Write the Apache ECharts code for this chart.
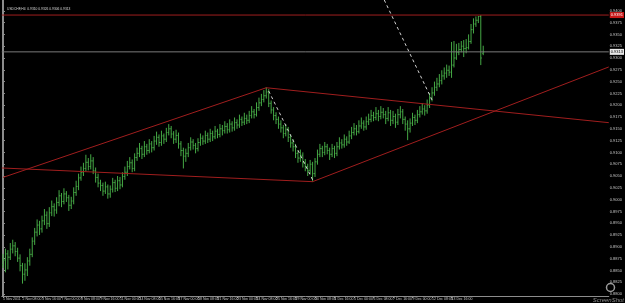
<!DOCTYPE html>
<html>
<head>
<meta charset="utf-8">
<script src="https://cdn.jsdelivr.net/npm/echarts@6/dist/echarts.min.js"></script>
<style>
  html, body { margin: 0; padding: 0; background: #000; }
  #chart { width: 625px; height: 303px; }
</style>
</head>
<body>
<div id="chart"></div>
<script>
// USDCHF H4 bars, prices in 1/10000 (pips)
var opens = [
  8862, 8872, 8885, 8878, 8895, 8902, 8890, 8876, 8860, 8842,
  8851, 8870, 8884, 8912, 8931, 8946, 8938, 8955, 8967, 8949,
  8972, 8985, 8978, 8994, 9008, 8996, 9012, 9004, 8988, 8997,
  9015, 9028, 9046, 9058, 9066, 9079, 9070, 9082, 9061, 9047,
  9035, 9030, 9018, 9027, 9012, 9022, 9036, 9024, 9040, 9031,
  9049, 9058, 9070, 9078, 9066, 9089, 9098, 9108, 9096, 9112,
  9104, 9118, 9110, 9124, 9132, 9121, 9135, 9128, 9142, 9150,
  9139, 9128, 9136, 9118, 9104, 9092, 9098, 9110, 9122, 9115,
  9108, 9121, 9130, 9124, 9136, 9128, 9140, 9133, 9145, 9138,
  9150, 9146, 9155, 9148, 9160, 9152, 9163, 9158, 9170, 9164,
  9172, 9168, 9178, 9186, 9180, 9195, 9205, 9212, 9220, 9228,
  9204, 9190, 9178, 9170, 9160, 9152, 9140, 9148, 9132, 9120,
  9112, 9098, 9088, 9094, 9078, 9070, 9062, 9075, 9055, 9080,
  9096, 9108, 9100, 9112, 9104, 9096, 9108, 9098, 9112, 9120,
  9116, 9128, 9122, 9135, 9142, 9150, 9144, 9156, 9162, 9154,
  9165, 9170, 9178, 9174, 9182, 9176, 9185, 9180, 9172, 9184,
  9168, 9176, 9164, 9180, 9186, 9170, 9160, 9150, 9162, 9174,
  9168, 9180, 9186, 9192, 9188, 9200, 9215, 9226, 9238, 9245,
  9252, 9262, 9268, 9274, 9270, 9285, 9300, 9312, 9318, 9325,
  9320, 9322, 9335, 9360, 9372, 9380, 9388, 9310
];
var highs = [
  8885, 8896, 8893, 8908, 8915, 8910, 8898, 8884, 8866, 8865,
  8878, 8896, 8920, 8940, 8958, 8955, 8966, 8980, 8975, 8984,
  8998, 8992, 9005, 9020, 9014, 9024, 9018, 9010, 9006, 9026,
  9040, 9055, 9070, 9078, 9095, 9088, 9096, 9090, 9068, 9055,
  9042, 9036, 9038, 9032, 9030, 9046, 9042, 9050, 9048, 9058,
  9070, 9082, 9090, 9085, 9098, 9110, 9120, 9114, 9124, 9118,
  9128, 9124, 9135, 9144, 9138, 9146, 9140, 9152, 9160, 9156,
  9145, 9148, 9142, 9124, 9110, 9108, 9120, 9132, 9128, 9120,
  9130, 9140, 9136, 9146, 9142, 9150, 9146, 9156, 9150, 9160,
  9158, 9166, 9162, 9170, 9166, 9174, 9170, 9180, 9176, 9184,
  9180, 9188, 9198, 9192, 9206, 9216, 9224, 9232, 9238, 9234,
  9210, 9196, 9185, 9176, 9168, 9158, 9160, 9154, 9138, 9128,
  9118, 9104, 9106, 9100, 9086, 9076, 9084, 9080, 9088, 9106,
  9118, 9114, 9122, 9118, 9110, 9118, 9114, 9122, 9132, 9128,
  9138, 9134, 9146, 9154, 9162, 9158, 9168, 9174, 9168, 9176,
  9182, 9190, 9186, 9196, 9190, 9198, 9194, 9188, 9196, 9190,
  9188, 9182, 9192, 9198, 9192, 9176, 9168, 9172, 9184, 9180,
  9190, 9198, 9204, 9200, 9212, 9226, 9238, 9250, 9258, 9266,
  9274, 9280, 9286, 9284, 9334, 9336, 9330, 9332, 9336, 9338,
  9340, 9350, 9372, 9384, 9388, 9389, 9391, 9326
];
var lows = [
  8855, 8846, 8852, 8872, 8886, 8880, 8868, 8848, 8822, 8828,
  8838, 8860, 8878, 8904, 8922, 8925, 8930, 8946, 8938, 8942,
  8965, 8964, 8970, 8986, 8984, 8990, 8995, 8976, 8980, 8990,
  9008, 9020, 9040, 9050, 9060, 9062, 9064, 9054, 9036, 9026,
  9018, 9008, 9012, 9002, 9004, 9015, 9016, 9018, 9022, 9026,
  9042, 9050, 9064, 9058, 9060, 9082, 9090, 9086, 9090, 9095,
  9098, 9100, 9104, 9116, 9112, 9114, 9118, 9122, 9136, 9130,
  9118, 9120, 9108, 9092, 9066, 9080, 9090, 9104, 9106, 9098,
  9102, 9114, 9116, 9118, 9120, 9122, 9124, 9128, 9130, 9132,
  9136, 9140, 9140, 9142, 9144, 9146, 9150, 9152, 9156, 9158,
  9160, 9162, 9172, 9172, 9176, 9188, 9198, 9206, 9214, 9196,
  9182, 9168, 9160, 9150, 9142, 9130, 9134, 9122, 9110, 9102,
  9088, 9078, 9080, 9068, 9060, 9050, 9054, 9038, 9048, 9074,
  9090, 9090, 9094, 9096, 9084, 9090, 9088, 9092, 9106, 9108,
  9110, 9114, 9118, 9128, 9136, 9136, 9140, 9150, 9146, 9148,
  9158, 9164, 9166, 9168, 9166, 9170, 9172, 9160, 9166, 9156,
  9160, 9152, 9158, 9172, 9160, 9146, 9126, 9142, 9156, 9158,
  9162, 9174, 9180, 9178, 9182, 9194, 9208, 9220, 9230, 9238,
  9244, 9254, 9258, 9262, 9258, 9280, 9296, 9306, 9312, 9302,
  9310, 9318, 9330, 9352, 9366, 9374, 9285, 9306
];
var closes = [
  8872, 8885, 8878, 8895, 8902, 8890, 8876, 8860, 8842, 8851,
  8870, 8884, 8912, 8931, 8946, 8938, 8955, 8967, 8949, 8972,
  8985, 8978, 8994, 9008, 8996, 9012, 9004, 8988, 8997, 9015,
  9028, 9046, 9058, 9066, 9079, 9070, 9082, 9061, 9047, 9035,
  9030, 9018, 9027, 9012, 9022, 9036, 9024, 9040, 9031, 9049,
  9058, 9070, 9078, 9066, 9089, 9098, 9108, 9096, 9112, 9104,
  9118, 9110, 9124, 9132, 9121, 9135, 9128, 9142, 9150, 9139,
  9128, 9136, 9118, 9104, 9092, 9098, 9110, 9122, 9115, 9108,
  9121, 9130, 9124, 9136, 9128, 9140, 9133, 9145, 9138, 9150,
  9146, 9155, 9148, 9160, 9152, 9163, 9158, 9170, 9164, 9172,
  9168, 9178, 9186, 9180, 9195, 9205, 9212, 9220, 9228, 9204,
  9190, 9178, 9170, 9160, 9152, 9140, 9148, 9132, 9120, 9112,
  9098, 9088, 9094, 9078, 9070, 9062, 9075, 9055, 9080, 9096,
  9108, 9100, 9112, 9104, 9096, 9108, 9098, 9112, 9120, 9116,
  9128, 9122, 9135, 9142, 9150, 9144, 9156, 9162, 9154, 9165,
  9170, 9178, 9174, 9182, 9176, 9185, 9180, 9172, 9184, 9168,
  9176, 9164, 9180, 9186, 9170, 9160, 9150, 9162, 9174, 9168,
  9180, 9186, 9192, 9188, 9200, 9215, 9226, 9238, 9245, 9252,
  9262, 9268, 9274, 9270, 9285, 9300, 9312, 9318, 9325, 9320,
  9322, 9335, 9360, 9372, 9380, 9388, 9300, 9313
];

// time axis: one label every 8 bars
var timeTickBars = [0, 8, 16, 24, 32, 40, 48, 56, 64, 72, 80, 88, 96, 104, 112, 120, 128, 136, 144, 152, 160, 168, 176, 184, 192];
var timeTickLabels = [
  "1 Nov 2011", "2 Nov 08:00", "3 Nov 16:00", "7 Nov 00:00", "8 Nov 08:00", "9 Nov 16:00",
  "11 Nov 00:00", "14 Nov 08:00", "15 Nov 16:00", "17 Nov 00:00", "18 Nov 08:00", "21 Nov 16:00",
  "23 Nov 00:00", "24 Nov 08:00", "25 Nov 16:00", "29 Nov 00:00", "30 Nov 08:00", "1 Dec 16:00",
  "5 Dec 00:00", "6 Dec 08:00", "7 Dec 16:00", "9 Dec 00:00", "12 Dec 08:00", "13 Dec 16:00", "15 Dec 00:00"
];
var priceTicks = [
  8800, 8825, 8850, 8875, 8900, 8925, 8950, 8975, 9000, 9025, 9050, 9075, 9100,
  9125, 9150, 9175, 9200, 9225, 9250, 9275, 9300, 9325, 9350, 9375, 9400
];

// drawn objects: [bar index, price in pips]
var trendUpLeft = [[0, 9047], [108, 9237]];
var trendDownLeft = [[-0.5, 9067], [127, 9038]];
var trendFromPeak = [[108, 9237], [248.5, 9163]];
var trendFromLow = [[127, 9038], [248.5, 9281]];
var dashDrop = [[109, 9230], [127, 9042]];
var dashRise = [[156.4, 9423], [176, 9211]];
var levelRed = [[-0.5, 9391], [248.5, 9391]];
var levelBid = [[-0.5, 9313], [248.5, 9313]];

function px(v) { return v / 10000; }
function pts(arr) { return arr.map(function (p) { return [p[0], px(p[1])]; }); }

var bars = [];
for (var i = 0; i < closes.length; i++) {
  bars.push([i, px(opens[i]), px(highs[i]), px(lows[i]), px(closes[i])]);
}
var last = closes.length - 1;
var titleText = "USDCHF,H4  " + [opens[last], highs[last], lows[last], closes[last]].map(function (v) {
  return px(v).toFixed(4);
}).join(" ");

var BAR_COLOR = "#45a845";
var RED = "#a01e1e";
var AXIS = "#8c8c8c";
var TXT = "#c8c8c8";
var FONT = "Liberation Sans";

var chart = echarts.init(document.getElementById("chart"));

function trend(data, color, dashed) {
  return {
    type: "line",
    data: pts(data),
    symbol: "none",
    silent: true,
    clip: true,
    animation: false,
    lineStyle: { color: color, width: 1, type: dashed ? [3, 3] : "solid" },
    z: 3
  };
}

function level(data, lineColor, boxColor, textColor) {
  var s = trend(data, lineColor, false);
  s.clip = false;
  s.endLabel = {
    show: true,
    distance: 1,
    formatter: function () { return px(data[1][1]).toFixed(4); },
    color: textColor,
    backgroundColor: boxColor,
    padding: [1, 1, 0, 1],
    fontSize: 4,
    lineHeight: 5,
    fontFamily: FONT
  };
  s.z = 4;
  return s;
}

var option = {
  backgroundColor: "#000",
  animation: false,
  title: {
    text: titleText,
    left: 2,
    top: 3,
    textStyle: { color: "#d8d8d8", fontSize: 3.3, fontWeight: "normal", fontFamily: FONT }
  },
  grid: { left: 0, right: 14, top: 0, bottom: 7 },
  xAxis: {
    type: "value",
    min: -0.5,
    max: 248.5,
    splitLine: { show: false },
    axisLine: { show: true, lineStyle: { color: AXIS } },
    axisTick: { show: true, customValues: timeTickBars, length: 2, lineStyle: { color: AXIS } },
    axisLabel: {
      customValues: timeTickBars,
      color: TXT,
      fontSize: 3.5,
      fontFamily: FONT,
      margin: 1,
      align: "left",
      formatter: function (v) {
        var k = timeTickBars.indexOf(v);
        return k >= 0 ? timeTickLabels[k] : "";
      }
    }
  },
  yAxis: [
    {
      type: "value",
      position: "right",
      min: 0.879576,
      max: 0.942288,
      splitLine: { show: false },
      axisLine: { show: true, lineStyle: { color: AXIS } },
      axisTick: { show: true, customValues: priceTicks.map(px), length: 2, lineStyle: { color: AXIS } },
      axisLabel: {
        customValues: priceTicks.map(px),
        color: TXT,
        fontSize: 4,
        fontFamily: FONT,
        margin: 1,
        formatter: function (v) { return v.toFixed(4); }
      }
    },
    {
      type: "value",
      position: "left",
      min: 0.879576,
      max: 0.942288,
      splitLine: { show: false },
      axisLine: { show: true, lineStyle: { color: AXIS } },
      axisTick: { show: false },
      axisLabel: { show: false }
    }
  ],
  graphic: [
    {
      type: "circle",
      right: 8,
      bottom: 9,
      shape: { r: 4 },
      style: { fill: "none", stroke: "#9a9a9a", lineWidth: 1.5 }
    },
    {
      type: "text",
      right: 1,
      bottom: 0,
      style: { text: "ScreenShot", fill: "#8a8a8a", font: "italic 6px " + FONT }
    }
  ],
  series: [
    {
      type: "custom",
      data: bars,
      encode: { x: 0, y: [1, 2, 3, 4] },
      silent: true,
      z: 2,
      renderItem: function (params, api) {
        var idx = api.value(0);
        var hi = api.coord([idx, api.value(2)]);
        var lo = api.coord([idx, api.value(3)]);
        var op = api.coord([idx, api.value(1)]);
        var cl = api.coord([idx, api.value(4)]);
        var st = { stroke: BAR_COLOR, lineWidth: 1 };
        return {
          type: "group",
          children: [
            { type: "line", shape: { x1: hi[0], y1: hi[1], x2: lo[0], y2: lo[1] }, style: st },
            { type: "line", shape: { x1: op[0] - 1, y1: op[1], x2: op[0], y2: op[1] }, style: st },
            { type: "line", shape: { x1: cl[0], y1: cl[1], x2: cl[0] + 1, y2: cl[1] }, style: st }
          ]
        };
      }
    },
    trend(trendUpLeft, RED, false),
    trend(trendDownLeft, RED, false),
    trend(trendFromPeak, RED, false),
    trend(trendFromLow, RED, false),
    trend(dashDrop, "#d0d0d0", true),
    trend(dashRise, "#d0d0d0", true),
    level(levelRed, RED, "#c81818", "#fff"),
    level(levelBid, "#7a7a7a", "#e8e8e8", "#000")
  ]
};

chart.setOption(option);
</script>
</body>
</html>
